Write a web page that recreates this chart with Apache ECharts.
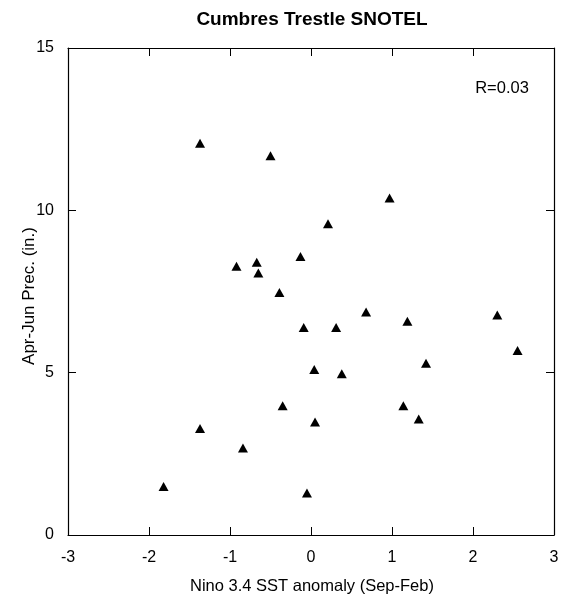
<!DOCTYPE html>
<html>
<head>
<meta charset="utf-8">
<script src="https://cdn.jsdelivr.net/npm/echarts@6/dist/echarts.min.js"></script>
<style>
  html, body { margin: 0; padding: 0; background: #fff; }
  #chart { width: 566px; height: 601px; }
</style>
</head>
<body>
<div id="chart"></div>
<script>
// Nino 3.4 SST anomaly (Sep-Feb) vs Apr-Jun precipitation, one point per year
const ninoAnomaly = [-1.37, -0.50, 0.97, 0.21, -0.13, -0.92, -0.67, -0.65, -0.39, 0.68, 1.19, 2.30, -0.09,
  0.31, 2.55, 1.42, 0.04, 0.38, -0.35, 1.14, 1.33, 0.05, -1.37, -0.84, -1.82, -0.05];
const aprJunPrecip = [12.07, 11.68, 10.38, 9.59, 8.58, 8.28, 8.40, 8.07, 7.47, 6.87, 6.58, 6.78, 6.39,
  6.39, 5.68, 5.29, 5.10, 4.97, 3.98, 3.98, 3.57, 3.48, 3.28, 2.68, 1.49, 1.29];
const xTicks = [-3, -2, -1, 0, 1, 2, 3];
const yTicks = [0, 5, 10, 15];
const correlationLabel = 'R=0.03';

const FONT = '"Liberation Sans", Arial, sans-serif';
const points = ninoAnomaly.map((x, i) => [x, aprJunPrecip[i]]);

const tickStyle = { show: true, inside: true, length: 8, lineStyle: { color: '#000', width: 1 } };
const lineStyle = { show: true, onZero: false, lineStyle: { color: '#000', width: 1.2 } };

const chart = echarts.init(document.getElementById('chart'), null, { renderer: 'canvas' });
chart.setOption({
  animation: false,
  backgroundColor: '#fff',
  grid: { left: 68, right: 12, top: 48, bottom: 66 },
  xAxis: [
    {
      type: 'value', min: xTicks[0], max: xTicks[xTicks.length - 1], interval: 1,
      position: 'bottom', axisLine: lineStyle, axisTick: tickStyle, splitLine: { show: false },
      axisLabel: { color: '#000', fontFamily: FONT, fontSize: 16, margin: 15 }
    },
    {
      type: 'value', min: xTicks[0], max: xTicks[xTicks.length - 1], interval: 1,
      position: 'top', axisLine: lineStyle, axisTick: tickStyle, splitLine: { show: false },
      axisLabel: { show: false }
    }
  ],
  yAxis: [
    {
      type: 'value', min: yTicks[0], max: yTicks[yTicks.length - 1], interval: 5,
      position: 'left', axisLine: lineStyle, axisTick: tickStyle, splitLine: { show: false },
      axisLabel: { color: '#000', fontFamily: FONT, fontSize: 16, margin: 14 }
    },
    {
      type: 'value', min: yTicks[0], max: yTicks[yTicks.length - 1], interval: 5,
      position: 'right', axisLine: lineStyle, axisTick: tickStyle, splitLine: { show: false },
      axisLabel: { show: false }
    }
  ],
  series: [{
    type: 'scatter',
    data: points,
    symbol: 'triangle',
    symbolSize: [10, 9],
    itemStyle: { color: '#000', opacity: 1 }
  }],
  graphic: [
    {
      type: 'text', x: 312, y: 20,
      style: { text: 'Cumbres Trestle SNOTEL', fill: '#000', font: 'bold 19px ' + FONT, textAlign: 'center', textVerticalAlign: 'middle' }
    },
    {
      type: 'text', x: 312, y: 586,
      style: { text: 'Nino 3.4 SST anomaly (Sep-Feb)', fill: '#000', font: '16.5px ' + FONT, textAlign: 'center', textVerticalAlign: 'middle' }
    },
    {
      type: 'text', x: 29, y: 296, rotation: Math.PI / 2,
      style: { text: 'Apr-Jun Prec. (in.)', fill: '#000', font: '17px ' + FONT, textAlign: 'center', textVerticalAlign: 'middle' }
    },
    {
      type: 'text', x: 502, y: 88,
      style: { text: correlationLabel, fill: '#000', font: '16.5px ' + FONT, textAlign: 'center', textVerticalAlign: 'middle' }
    }
  ]
});
</script>
</body>
</html>
